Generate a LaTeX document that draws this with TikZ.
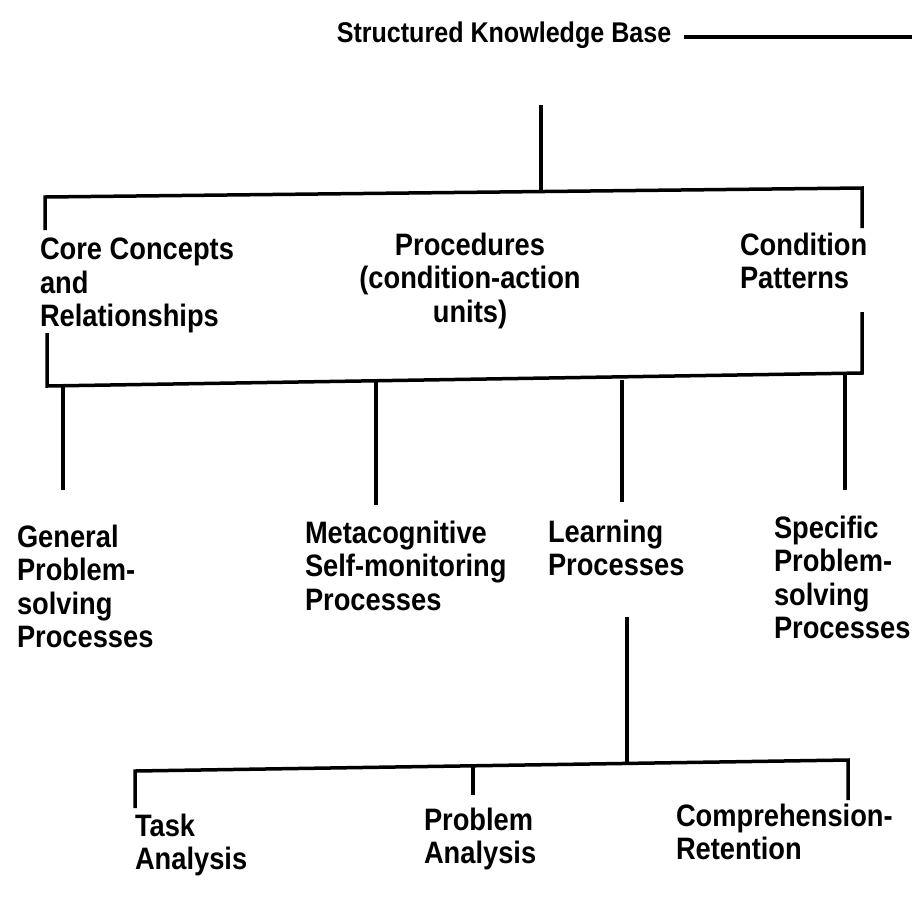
\documentclass[tikz,border=0pt]{standalone}
\usepackage{fontspec}
\setmainfont{Liberation Sans}
\newfontfamily\dfont{Liberation Sans}[FakeStretch=0.88]
\begin{document}
\begin{tikzpicture}[x=1pt,y=-1pt,
  lbl/.style={inner sep=0pt,outer sep=0pt,font=\dfont\bfseries\fontsize{31}{33.5}\selectfont,align=left,anchor=north west},
  clbl/.style={lbl,align=center,anchor=north},
  ln/.style={line width=3.5pt,line cap=butt,line join=miter}]
\useasboundingbox (0,0) rectangle (912,903);
% title
\node[lbl,font=\dfont\bfseries\fontsize{28.5}{30}\selectfont,anchor=center] (skb) at (504,35) {Structured Knowledge Base};
\coordinate (skbEnd) at (912,37);
\draw[ln] ([xshift=13pt]skb.east |- skbEnd) -- (skbEnd);
% stem and upper bracket
\coordinate (s0) at (541,105);
\coordinate (s1) at (541,192);
\coordinate (uL) at (45,197);
\coordinate (uR) at (862,188);
\coordinate (uLd) at (45,230);
\coordinate (uRd) at (862,228);
\draw[ln] (s0) -- (s1);
\draw[ln] (uLd) -- (uL) -- (uR) -- (uRd);
% row 1
\node[lbl] (core) at (40,238) {Core Concepts\\and\\Relationships};
\node[clbl] (proc) at (470,233) {Procedures\\(condition-action\\units)};
\node[lbl] (cond) at (740,233) {Condition\\Patterns};
% lower bracket
\coordinate (lLu) at (47,333);
\coordinate (lL) at (47,386);
\coordinate (lR) at (862,373);
\coordinate (lRu) at (862,312);
\draw[ln] (lLu) -- (lL) -- (lR) -- (lRu);
\coordinate (d1a) at (63,386);  \coordinate (d1b) at (63,490);
\coordinate (d2a) at (376,382); \coordinate (d2b) at (376,505);
\coordinate (d3a) at (622,380); \coordinate (d3b) at (622,502);
\coordinate (d4a) at (845,375); \coordinate (d4b) at (845,490);
\draw[ln] (d1a) -- (d1b);
\draw[ln] (d2a) -- (d2b);
\draw[ln] (d3a) -- (d3b);
\draw[ln] (d4a) -- (d4b);
% row 2
\node[lbl] (gen) at (17,525) {General\\Problem-\\solving\\Processes};
\node[lbl] (meta) at (305,521) {Metacognitive\\Self-monitoring\\Processes};
\node[lbl] (learn) at (548,520) {Learning\\Processes};
\node[lbl] (spec) at (774,516) {Specific\\Problem-\\solving\\Processes};
% learning subtree
\coordinate (t0) at (627,617);
\coordinate (t1) at (627,762);
\draw[ln] (t0) -- (t1);
\coordinate (bL) at (135,771);
\coordinate (bR) at (848,760);
\coordinate (bLd) at (135,808);
\coordinate (bRd) at (848,800);
\coordinate (bMa) at (473,767);
\coordinate (bMb) at (473,795);
\draw[ln] (bLd) -- (bL) -- (bR) -- (bRd);
\draw[ln] (bMa) -- (bMb);
\node[lbl] (task) at (135,814) {Task\\Analysis};
\node[lbl] (prob) at (424,808) {Problem\\Analysis};
\node[lbl] (comp) at (676,804) {Comprehension-\\Retention};
\end{tikzpicture}
\end{document}
